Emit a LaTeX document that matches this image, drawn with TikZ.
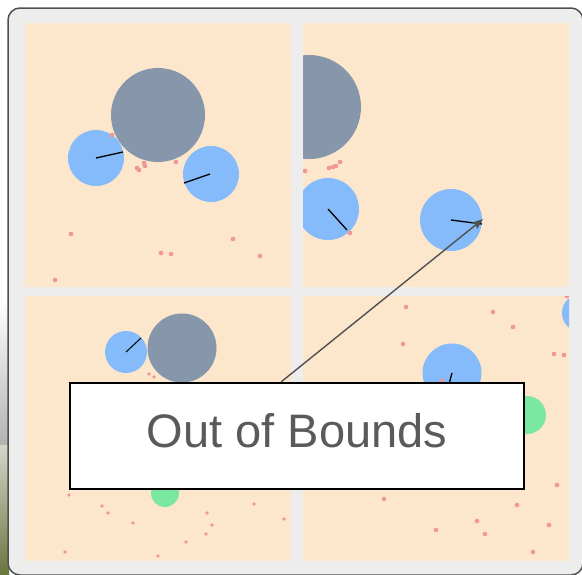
\documentclass[tikz,border=0pt]{standalone}
\usepackage{fontspec}
\setmainfont{Liberation Sans}
\usetikzlibrary{arrows.meta}

\definecolor{sand}{RGB}{252,230,204}
\definecolor{framegrey}{RGB}{237,237,237}
\definecolor{edgegrey}{RGB}{80,80,80}
\definecolor{rockgrey}{RGB}{134,150,171}
\definecolor{agentblue}{RGB}{133,187,250}
\definecolor{pelletred}{RGB}{240,150,150}
\definecolor{goalgreen}{RGB}{122,232,160}
\definecolor{textgrey}{RGB}{90,90,90}
\definecolor{olive}{RGB}{105,118,62}

\begin{document}
\begin{tikzpicture}[x=1pt, y=-1pt,
        panel/.style={fill=sand},
        agent/.style={fill=agentblue},
        obstacle/.style={fill=rockgrey},
        pellet/.style={fill=pelletred},
        goal/.style={fill=goalgreen},
        heading/.style={black, line width=1.3pt},
        pointer/.style={-{Stealth[length=11pt, width=8pt, inset=2pt]}, edgegrey, line width=1.4pt},
        callout/.style={draw=black, line width=1.5pt, fill=white, inner sep=0pt,
            minimum width=454pt, minimum height=106pt, text=textgrey,
            font=\fontsize{47}{50}\selectfont, text height=34pt, text depth=12pt}]
        \useasboundingbox (0,0) rectangle (582,574);
        \fill[white] (0,0) rectangle (582,574);

        % Photo edge behind the window
        \shade[top color=white, bottom color=gray!60] (0,300) rectangle (9,445);
        \shade[top color=gray!25!olive!30, bottom color=olive] (0,445) rectangle (9,574);

        % Window frame
        \draw[fill=framegrey, draw=edgegrey, line width=1.5pt, rounded corners=12pt] (8,8) rectangle (583,575);

        % Top left view
        \begin{scope}
            \clip (25,23) rectangle (291,287);
            \fill[panel] (25,23) rectangle (291,287);
            \fill[obstacle] (158,115) circle (47);
            \fill[agent] (96,158) circle (28);
            \draw[heading] (96,158) -- (123,152);
            \fill[agent] (211,174) circle (28);
            \draw[heading] (210,174) -- (184,183);
            \foreach \x/\y in {112/135, 137/168, 139/170, 144/163, 145/166, 176/162,
                    71/234, 233/239, 161/253, 171/254, 260/256, 55/280}
                \fill[pellet] (\x,\y) circle (2.3);
        \end{scope}

        % Top right view
        \begin{scope}
            \clip (303,23) rectangle (569,287);
            \fill[panel] (303,23) rectangle (569,287);
            \fill[obstacle] (309,107) circle (52);
            \fill[agent] (328,209) circle (31);
            \draw[heading] (328,209) -- (347,230);
            \fill[agent] (451,220) circle (31);
            \draw[heading] (451,220) -- (482,224);
            \coordinate (target) at (483,219);
            \foreach \x/\y in {305/171, 329/168, 333/167, 336/166, 340/162, 350/233}
                \fill[pellet] (\x,\y) circle (2.3);
        \end{scope}

        % Bottom left view
        \begin{scope}
            \clip (25,296) rectangle (291,561);
            \fill[panel] (25,296) rectangle (291,561);
            \fill[agent] (126,352) circle (21);
            \draw[heading, line width=1pt] (126,352) -- (141,338);
            \fill[obstacle] (182,348) circle (34.5);
            \fill[goal] (165,493) circle (14);
            \foreach \x/\y in {149/374, 154/377, 69/495, 102/506, 108/513, 133/523, 207/513,
                    212/525, 206/534, 186/542, 254/504, 284/519, 65/552, 158/556}
                \fill[pellet] (\x,\y) circle (1.9);
        \end{scope}

        % Bottom right view
        \begin{scope}
            \clip (303,296) rectangle (569,561);
            \fill[panel] (303,296) rectangle (569,561);
            \fill[agent] (452,373) circle (29.5);
            \draw[heading] (452,373) -- (446,395);
            \fill[agent] (581,313) circle (19);
            \fill[goal] (527,415) circle (19);
            \foreach \x/\y in {442/381, 567/296, 406/307, 493/312, 513/327, 403/344, 554/354,
                    564/355, 384/499, 557/485, 517/505, 477/521, 436/530, 485/534, 549/525, 533/552}
                \fill[pellet] (\x,\y) circle (2.3);
        \end{scope}

        % Message box with pointer
        \coordinate (tail) at (281,382);
        \draw[pointer] (tail) -- (target);
        \node[callout] (label) at (297,436) {Out of Bounds};
    \end{tikzpicture}
\end{document}
